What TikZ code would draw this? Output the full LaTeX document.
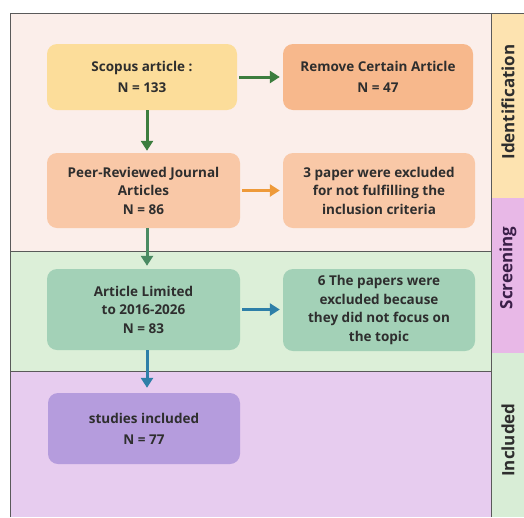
\documentclass[tikz,border=0pt]{standalone}
\usepackage{fontspec}
\setmainfont{Open Sans}
\usetikzlibrary{arrows.meta}
\definecolor{bgTop}{HTML}{FBEEEA}
\definecolor{bgMid}{HTML}{DCEFD8}
\definecolor{bgBot}{HTML}{E7CCEF}
\definecolor{stId}{HTML}{FDE3B0}
\definecolor{stSc}{HTML}{E8B8E7}
\definecolor{stIn}{HTML}{D8EDD6}
\definecolor{frameC}{HTML}{5A5A5A}
\definecolor{txt}{HTML}{2E2E2E}
\definecolor{fScopus}{HTML}{FCDD9A}
\definecolor{fRemove}{HTML}{F7B88C}
\definecolor{fPeer}{HTML}{F9C8A7}
\definecolor{fGreen}{HTML}{A3D1B7}
\definecolor{fPurple}{HTML}{B59CDD}
\definecolor{aGreen}{HTML}{3C7D3E}
\definecolor{aOrange}{HTML}{EE9A3A}
\definecolor{aTeal}{HTML}{4A8A62}
\definecolor{aBlue}{HTML}{2E7FA8}
\definecolor{stScTxt}{HTML}{3A1F48}
\begin{document}
\begin{tikzpicture}[x=1pt,y=-1pt,
  box/.style={rounded corners=10pt, minimum width=191pt, align=center,
    font=\bfseries\fontsize{13.5}{18.5}\selectfont, text=txt, inner sep=0pt},
  two/.style={font=\bfseries\fontsize{13.5}{21}\selectfont},
  arr/.style={line width=3pt, -{Triangle[width=12pt,length=10pt]}},
  lbl/.style={rotate=90, font=\bfseries\fontsize{17}{19}\selectfont}]
\useasboundingbox (0,0) rectangle (524,517);
\fill[white] (0,0) rectangle (524,517);
% bands
\fill[bgTop] (10,13) rectangle (491,251);
\fill[bgMid] (10,251) rectangle (491,371);
\fill[bgBot] (10,371) rectangle (491,517);
% right strip
\fill[stId] (491,13) rectangle (524,198);
\fill[stSc] (491,198) rectangle (524,353);
\fill[stIn] (491,353) rectangle (524,517);
\draw[frameC, line width=0.9pt] (10,517) -- (10,13) -- (524,13);
\draw[frameC, line width=0.9pt] (491,13) -- (491,517);
\draw[frameC, line width=0.9pt] (10,251) -- (491,251);
\draw[frameC, line width=0.9pt] (10,371) -- (491,371);
% strip labels
\node[lbl, text=txt] (lid) at (508,102) {Identification};
\node[lbl, text=stScTxt] (lsc) at (508,268) {Screening};
\node[lbl, text=txt] (lin) at (508,440) {Included};
% boxes
\node[box, two, fill=fScopus, minimum height=66pt, minimum width=190pt] (scopus) at (142,77) {Scopus article :\\N = 133};
\node[box, two, fill=fRemove, minimum height=66pt, minimum width=190pt] (remove) at (378,77) {Remove Certain Article\\N = 47};
\node[box, fill=fPeer, minimum height=75pt, minimum width=193pt] (peer) at (143.5,190.5) {Peer-Reviewed Journal\\Articles\\N = 86};
\node[box, fill=fPeer, minimum height=75pt, minimum width=192pt] (excl1) at (379,190.5) {3 paper were excluded\\for not fulfilling the\\inclusion criteria};
\node[box, fill=fGreen, minimum height=81pt, minimum width=193pt] (limited) at (143.5,309.5) {Article Limited\\to 2016-2026\\N = 83};
\node[box, fill=fGreen, minimum height=82pt, minimum width=192pt] (excl2) at (379,310) {6 The papers were\\excluded because\\they did not focus on\\the topic};
\node[box, two, fill=fPurple, minimum height=71pt, minimum width=192pt] (studies) at (144,428.5) {studies included\\N = 77};
% arrows
\draw[arr, aGreen, shorten <=2pt, shorten >=3pt] (scopus.east) -- (remove.west);
\draw[arr, aGreen, shorten >=2pt] ([xshift=5pt]scopus.south) -- ([xshift=3.5pt]peer.north);
\draw[arr, aOrange, shorten <=2pt, shorten >=3pt] (peer.east) -- (excl1.west);
\draw[arr, aTeal, shorten >=3pt] ([xshift=3.5pt]peer.south) -- ([xshift=3.5pt]limited.north);
\draw[arr, aBlue, shorten <=2pt, shorten >=3pt] (limited.east) -- (excl2.west |- limited.east);
\draw[arr, aBlue, shorten >=5pt] ([xshift=3.5pt]limited.south) -- ([xshift=3pt]studies.north);
\end{tikzpicture}
\end{document}
